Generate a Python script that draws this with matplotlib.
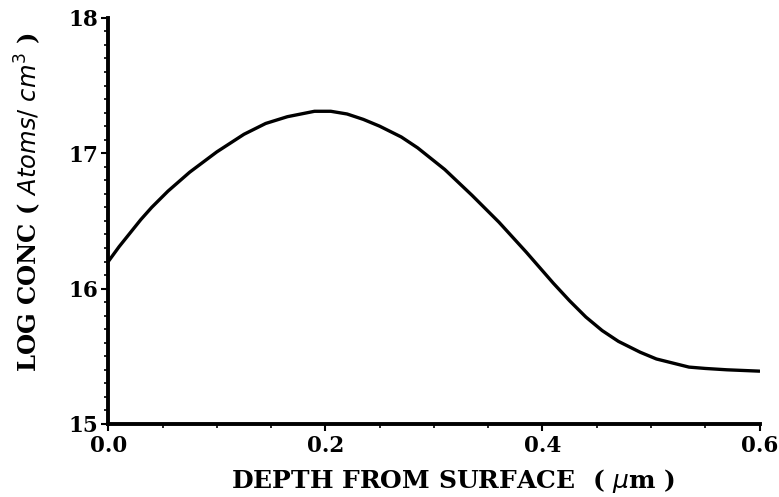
import numpy as np
import matplotlib.pyplot as plt
from matplotlib.ticker import MultipleLocator

# depth (um) and log concentration
depth = [0.0, 0.01, 0.02, 0.03, 0.04, 0.055, 0.075, 0.10, 0.125, 0.145,
         0.165, 0.19, 0.205, 0.22, 0.235, 0.25, 0.27, 0.285, 0.31, 0.335,
         0.36, 0.385, 0.41, 0.425, 0.44, 0.455, 0.47, 0.49, 0.505, 0.52,
         0.535, 0.55, 0.57, 0.60]
log_conc = [16.20, 16.31, 16.41, 16.51, 16.60, 16.72, 16.86, 17.01, 17.14,
            17.22, 17.27, 17.31, 17.31, 17.29, 17.25, 17.20, 17.12, 17.04,
            16.88, 16.69, 16.49, 16.27, 16.04, 15.91, 15.79, 15.69, 15.61,
            15.53, 15.48, 15.45, 15.42, 15.41, 15.40, 15.39]

SERIF = "DejaVu Serif"

fig = plt.figure(figsize=(7.79, 4.97), dpi=100)
ax = fig.add_axes([0.139, 0.147, 0.836, 0.817])

ax.plot(depth, log_conc, color="black", lw=2.4,
        solid_joinstyle="round", solid_capstyle="round")

ax.set_xlim(0.0, 0.6)
ax.set_ylim(15, 18)
ax.xaxis.set_major_locator(MultipleLocator(0.2))
ax.xaxis.set_minor_locator(MultipleLocator(0.05))
ax.yaxis.set_major_locator(MultipleLocator(1))
ax.yaxis.set_minor_locator(MultipleLocator(0.1))
ax.xaxis.set_major_formatter(plt.FormatStrFormatter("%.1f"))

for s in ["top", "right"]:
    ax.spines[s].set_visible(False)
for s in ["left", "bottom"]:
    ax.spines[s].set_linewidth(2.8)

ax.tick_params(which="major", length=5, width=1.5, direction="out")
ax.tick_params(which="minor", length=3, width=1.2, direction="out")
ax.tick_params(axis="x", pad=3)
ax.tick_params(axis="y", pad=2)

for lbl in ax.get_xticklabels() + ax.get_yticklabels():
    lbl.set_fontfamily(SERIF)
    lbl.set_fontweight("bold")
    lbl.set_fontsize(15.5)

ax.set_xlabel(r"DEPTH FROM SURFACE  ( $\mu$m )", fontfamily=SERIF,
              fontweight="bold", fontsize=18)
ax.xaxis.set_label_coords(0.53, -0.105)
ax.set_ylabel(r"LOG CONC ( $\mathit{Atoms/\ cm^3}$ )", fontfamily=SERIF,
              fontweight="bold", fontsize=17.5)
ax.yaxis.set_label_coords(-0.100, 0.547)

fig.savefig("out.png", dpi=100)
